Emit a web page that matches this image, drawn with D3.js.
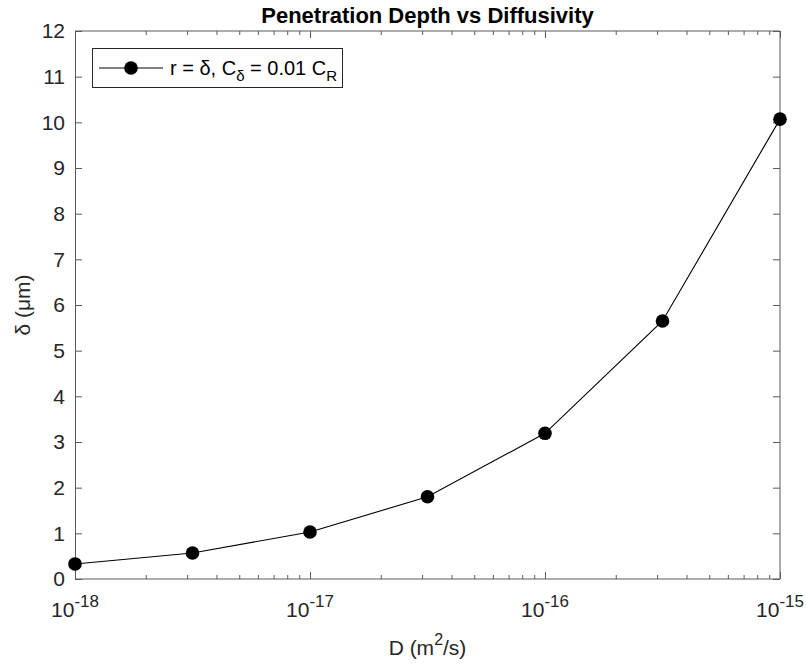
<!DOCTYPE html>
<html>
<head>
<meta charset="utf-8">
<script src="https://d3js.org/d3.v7.min.js"></script>
<style>
  body { margin: 0; background: #fff; }
  svg { font-family: "Liberation Sans", Arial, Helvetica, sans-serif; }
  .axis path, .axis line { stroke: #5a5a5a; }
  .axis text { fill: #262626; font-size: 21px; }
</style>
</head>
<body>
<svg id="canvas" width="806" height="666"></svg>
<script>
  // data
  const diffusivity = [1e-18, 3.162e-18, 1e-17, 3.162e-17, 1e-16, 3.162e-16, 1e-15];
  const depth = [0.33, 0.57, 1.03, 1.80, 3.19, 5.65, 10.07];
  const yTicks = [0, 1, 2, 3, 4, 5, 6, 7, 8, 9, 10, 11, 12];
  const xMajor = [1e-18, 1e-17, 1e-16, 1e-15];
  const xExponents = ["-18", "-17", "-16", "-15"];

  const svg = d3.select("svg");
  const plot = { left: 75, right: 780, top: 31, bottom: 579 };

  const x = d3.scaleLog().domain([1e-18, 1e-15]).range([plot.left, plot.right]);
  const y = d3.scaleLinear().domain([0, 12]).range([plot.bottom, plot.top]);

  const xMinor = x.ticks().filter(t => !xMajor.some(m => Math.abs(m - t) / m < 1e-6));

  // y axis left + right
  const yAxis = svg.append("g").attr("class", "axis")
    .attr("transform", `translate(${plot.left},0)`)
    .call(d3.axisLeft(y).tickValues(yTicks).tickSize(-7).tickPadding(10).tickFormat(d3.format("d")));
  yAxis.select(".domain").attr("d", `M0.5,${plot.top}V${plot.bottom}`);

  const yAxisR = svg.append("g").attr("class", "axis")
    .attr("transform", `translate(${plot.right},0)`)
    .call(d3.axisRight(y).tickValues(yTicks).tickSize(-7).tickFormat(""));
  yAxisR.select(".domain").attr("d", `M0,${plot.top}V${plot.bottom}`);

  // x axis bottom + top (major)
  const xAxis = svg.append("g").attr("class", "axis")
    .attr("transform", `translate(0,${plot.bottom})`)
    .call(d3.axisBottom(x).tickValues(xMajor).tickSize(-7).tickFormat(""));
  xAxis.select(".domain").attr("d", `M${plot.left},0H${plot.right}`);

  const xAxisT = svg.append("g").attr("class", "axis")
    .attr("transform", `translate(0,${plot.top})`)
    .call(d3.axisTop(x).tickValues(xMajor).tickSize(-7).tickFormat(""));
  xAxisT.select(".domain").attr("d", `M${plot.left},0H${plot.right}`);

  // minor ticks
  svg.append("g").attr("class", "axis")
    .attr("transform", `translate(0,${plot.bottom})`)
    .call(d3.axisBottom(x).tickValues(xMinor).tickSize(-4).tickFormat(""))
    .select(".domain").remove();
  svg.append("g").attr("class", "axis")
    .attr("transform", `translate(0,${plot.top})`)
    .call(d3.axisTop(x).tickValues(xMinor).tickSize(-4).tickFormat(""))
    .select(".domain").remove();

  // x tick labels with superscripts
  const xl = svg.append("g").selectAll("text").data(xMajor).join("text")
    .attr("x", d => x(d))
    .attr("y", plot.bottom + 38)
    .attr("text-anchor", "middle")
    .attr("fill", "#262626")
    .attr("font-size", 21);
  xl.append("tspan").text("10");
  xl.append("tspan").attr("dy", -10).attr("font-size", 17).text((d, i) => xExponents[i]);

  // line and markers
  const pts = diffusivity.map((d, i) => [d, depth[i]]);
  svg.append("path")
    .datum(pts)
    .attr("fill", "none")
    .attr("stroke", "#000")
    .attr("stroke-width", 1.1)
    .attr("d", d3.line().x(d => x(d[0])).y(d => y(d[1])));
  svg.append("g").selectAll("circle").data(pts).join("circle")
    .attr("cx", d => x(d[0]))
    .attr("cy", d => y(d[1]))
    .attr("r", 6.8)
    .attr("fill", "#000");

  // title
  svg.append("text")
    .attr("x", (plot.left + plot.right) / 2)
    .attr("y", 23)
    .attr("text-anchor", "middle")
    .attr("font-weight", "bold")
    .attr("font-size", 22)
    .attr("fill", "#000")
    .text("Penetration Depth vs Diffusivity");

  // axis labels
  const xlab = svg.append("text")
    .attr("x", (plot.left + plot.right) / 2)
    .attr("y", 655)
    .attr("text-anchor", "middle")
    .attr("font-size", 21)
    .attr("fill", "#262626");
  xlab.append("tspan").text("D (m");
  xlab.append("tspan").attr("dy", -10).attr("font-size", 16).text("2");
  xlab.append("tspan").attr("dy", 10).text("/s)");

  svg.append("text")
    .attr("transform", `translate(30,${(plot.top + plot.bottom) / 2}) rotate(-90)`)
    .attr("text-anchor", "middle")
    .attr("font-size", 21)
    .attr("fill", "#262626")
    .text("δ (μm)");

  // legend
  const lg = svg.append("g");
  lg.append("rect")
    .attr("x", 92.5).attr("y", 48.5).attr("width", 250).attr("height", 39)
    .attr("fill", "#fff").attr("stroke", "#262626").attr("stroke-width", 1);
  lg.append("line")
    .attr("x1", 99).attr("x2", 163).attr("y1", 68).attr("y2", 68)
    .attr("stroke", "#000").attr("stroke-width", 1.1);
  lg.append("circle").attr("cx", 131).attr("cy", 68).attr("r", 6.8).attr("fill", "#000");
  const lt = lg.append("text")
    .attr("x", 170).attr("y", 75)
    .attr("font-size", 20)
    .attr("fill", "#000");
  lt.append("tspan").text("r = δ, C");
  lt.append("tspan").attr("dy", 6).attr("font-size", 15).text("δ");
  lt.append("tspan").attr("dy", -6).text(" = 0.01 C");
  lt.append("tspan").attr("dy", 6).attr("font-size", 15).text("R");
</script>
</body>
</html>
